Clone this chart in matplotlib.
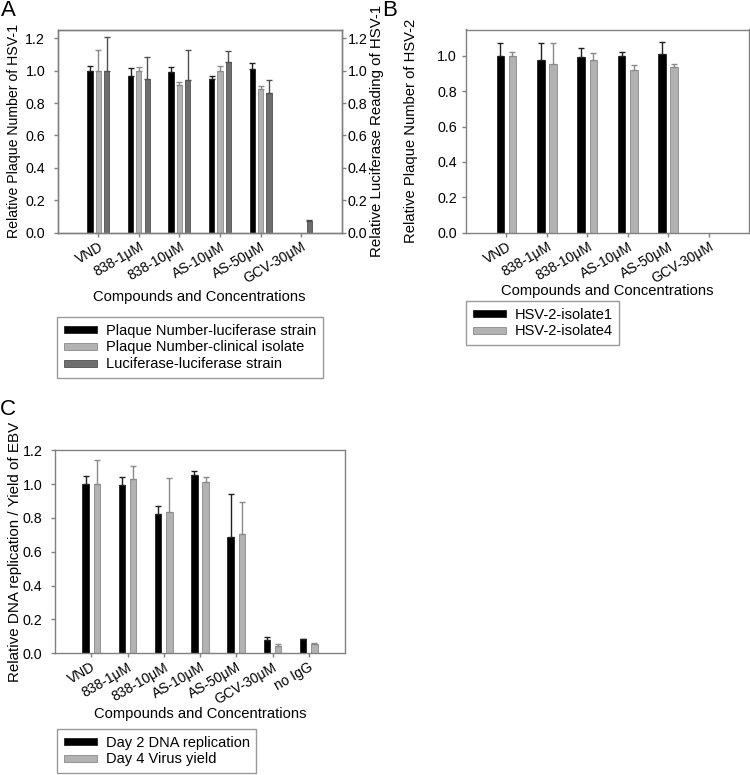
import numpy as np
import matplotlib
matplotlib.use("Agg")
import matplotlib.pyplot as plt

plt.rcParams['font.family'] = ['Liberation Sans', 'DejaVu Sans']
plt.rcParams['font.size'] = 10

nan = np.nan
# ---- Panel A data ----
cats_a = ['VND', '838-1μM', '838-10μM', 'AS-10μM', 'AS-50μM', 'GCV-30μM']
plaque_luc = [1.00, 0.97, 0.99, 0.95, 1.01, nan]
plaque_luc_err = [0.03, 0.05, 0.035, 0.02, 0.035, nan]
plaque_clin = [1.00, 1.00, 0.91, 1.00, 0.885, nan]
plaque_clin_err = [0.13, 0.025, 0.02, 0.03, 0.022, nan]
luc_luc = [1.00, 0.95, 0.945, 1.055, 0.865, 0.07]
luc_luc_err = [0.21, 0.135, 0.185, 0.065, 0.075, 0.008]
labels_a = ['Plaque Number-luciferase strain', 'Plaque Number-clinical isolate',
            'Luciferase-luciferase strain']

# ---- Panel B data ----
cats_b = ['VND', '838-1μM', '838-10μM', 'AS-10μM', 'AS-50μM', 'GCV-30μM']
iso1 = [1.00, 0.975, 0.995, 1.00, 1.01, nan]
iso1_err = [0.075, 0.10, 0.05, 0.023, 0.068, nan]
iso4 = [1.00, 0.955, 0.977, 0.919, 0.94, nan]
iso4_err = [0.023, 0.117, 0.04, 0.032, 0.017, nan]
labels_b = ['HSV-2-isolate1', 'HSV-2-isolate4']

# ---- Panel C data ----
cats_c = ['VND', '838-1μM', '838-10μM', 'AS-10μM', 'AS-50μM', 'GCV-30μM', 'no IgG']
day2 = [1.00, 0.993, 0.823, 1.054, 0.69, 0.079, 0.083]
day2_err = [0.048, 0.05, 0.05, 0.026, 0.254, 0.016, 0.004]
day4 = [1.00, 1.03, 0.835, 1.013, 0.703, 0.045, 0.055]
day4_err = [0.145, 0.08, 0.2, 0.031, 0.193, 0.01, 0.003]
labels_c = ['Day 2 DNA replication', 'Day 4 Virus yield']

BLACK = '#000000'
LIGHT = '#b2b2b2'
DARK = '#6e6e6e'
SPINE = '#808080'
LABEL_FS = 10.6

fig = plt.figure(figsize=(7.5, 7.75), dpi=100)


def style_axes(ax, ypad=2):
    for s in ax.spines.values():
        s.set_color(SPINE)
        s.set_linewidth(1.0)
    ax.tick_params(direction='out', length=3, width=1, color=SPINE, labelsize=10.0, pad=2)
    ax.tick_params(axis='y', labelsize=10.3, pad=ypad)


def draw_bars(ax, series, errs, colors, edges, offsets, width):
    handles = []
    n = len(series[0])
    x = np.arange(1, n + 1)
    for vals, err, c, e, off in zip(series, errs, colors, edges, offsets):
        vals = np.array(vals, dtype=float)
        err = np.array(err, dtype=float)
        h = ax.bar(x + off, vals, width=width, color=c, edgecolor=e, linewidth=0.6, zorder=2)
        handles.append(h)
        ax.errorbar(x + off, vals, yerr=[np.zeros_like(err), err], fmt='none',
                    ecolor=e, elinewidth=1.0, capsize=2.5, capthick=1.0, zorder=3)
    return handles


def set_xcats(ax, cats):
    n = len(cats)
    ax.set_xlim(0, n + 1)
    ax.set_xticks(np.arange(1, n + 1))
    ax.set_xticklabels(cats, rotation=30, ha='right', va='top', rotation_mode='anchor')


def yticks(ax, top):
    t = np.arange(0, top + 0.01, 0.2)
    ax.set_yticks(t)
    ax.set_yticklabels([f'{v:.1f}' for v in t])


def legend(handles, labels, x, y):
    leg = fig.legend(handles, labels, loc='upper left', bbox_to_anchor=(x / 750, 1 - y / 775),
                     frameon=True, fancybox=False, edgecolor=SPINE, fontsize=10.5,
                     handlelength=2.3, handleheight=0.35, labelspacing=0.2,
                     borderpad=0.45, handletextpad=0.6, borderaxespad=0)
    leg.get_frame().set_linewidth(1.0)
    return leg


# ---------- Panel A ----------
axA = fig.add_axes([57.7 / 750, 1 - 232.5 / 775, 284 / 750, 203 / 775])
hA = draw_bars(axA, [plaque_luc, plaque_clin, luc_luc],
               [plaque_luc_err, plaque_clin_err, luc_luc_err],
               [BLACK, LIGHT, DARK], ['#202020', '#8a8a8a', '#505050'],
               [-0.205, 0.0, 0.205], 0.13)
set_xcats(axA, cats_a)
axA.set_ylim(0, 1.255)
yticks(axA, 1.2)
style_axes(axA, ypad=6)
axA.set_ylabel('Relative Plaque Number of HSV-1', fontsize=10.2)
axA.yaxis.set_label_coords(-0.13, 0.5)
axA.set_xlabel('Compounds and Concentrations', fontsize=LABEL_FS)
axA.xaxis.set_label_coords(0.5, -0.283)
axA2 = axA.twinx()
axA2.set_ylim(0, 1.255)
yticks(axA2, 1.2)
style_axes(axA2, ypad=1.5)
axA2.set_ylabel('Relative Luciferase Reading of HSV-1', fontsize=10.8)
axA2.yaxis.set_label_coords(1.098, 0.5)
legend(hA, labels_a, 57, 317)

# ---------- Panel B ----------
axB = fig.add_axes([466 / 750, 1 - 232.5 / 775, 283 / 750, 203 / 775])
hB = draw_bars(axB, [iso1, iso4], [iso1_err, iso4_err],
               [BLACK, LIGHT], ['#202020', '#8a8a8a'], [-0.15, 0.15], 0.19)
set_xcats(axB, cats_b)
axB.set_ylim(0, 1.15)
yticks(axB, 1.0)
style_axes(axB, ypad=3.5)
axB.set_ylabel('Relative Plaque Number of HSV-2', fontsize=LABEL_FS)
axB.yaxis.set_label_coords(-0.17, 0.5)
axB.set_xlabel('Compounds and Concentrations', fontsize=LABEL_FS)
axB.xaxis.set_label_coords(0.5, -0.254)
legend(hB, labels_b, 466, 301)

# ---------- Panel C ----------
axC = fig.add_axes([55 / 750, 1 - 653.3 / 775, 290 / 750, 203 / 775])
hC = draw_bars(axC, [day2, day4], [day2_err, day4_err],
               [BLACK, LIGHT], ['#202020', '#8a8a8a'], [-0.155, 0.155], 0.18)
set_xcats(axC, cats_c)
axC.set_ylim(0, 1.2)
yticks(axC, 1.2)
style_axes(axC, ypad=6)
axC.set_ylabel('Relative DNA replication / Yield of EBV', fontsize=10.9)
axC.yaxis.set_label_coords(-0.114, 0.5)
axC.set_xlabel('Compounds and Concentrations', fontsize=LABEL_FS)
axC.xaxis.set_label_coords(0.5, -0.265)
legend(hC, labels_c, 57, 729)

# Panel letters
fig.text(1 / 750, 1 - 0 / 775, 'A', fontsize=16, va='top', ha='left')
fig.text(382 / 750, 1 - 0 / 775, 'B', fontsize=16, va='top', ha='left')
fig.text(0 / 750, 1 - 399 / 775, 'C', fontsize=16, va='top', ha='left')

fig.savefig('out.png', dpi=100, facecolor='white')
